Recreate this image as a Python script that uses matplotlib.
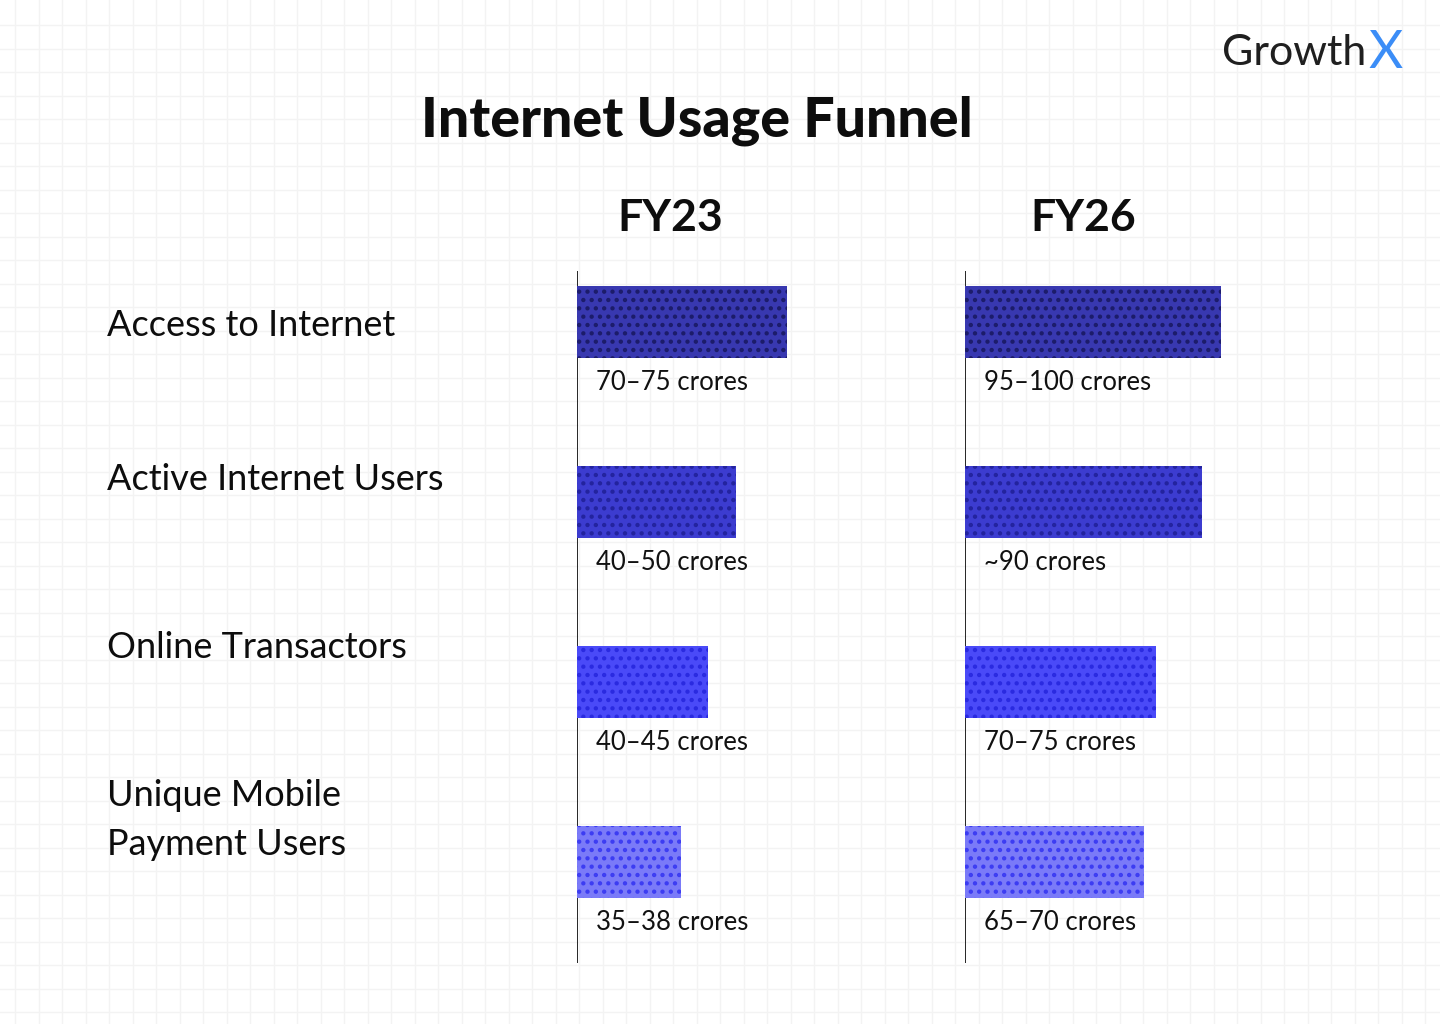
import numpy as np
import matplotlib
matplotlib.use('Agg')
import matplotlib.pyplot as plt

plt.rcParams['font.family'] = ['Lato', 'DejaVu Sans']
plt.rcParams['hatch.linewidth'] = 1.9

# data (bar lengths in screen units)
stages = ['Access to Internet', 'Active Internet Users', 'Online Transactors',
          'Unique Mobile\nPayment Users']
years = ['FY23', 'FY26']
fy23_len = [210, 159, 131, 104]
fy26_len = [256, 237, 191, 179]
fy23_labels = ['70\u201375 crores', '40\u201350 crores', '40\u201345 crores', '35\u201338 crores']
fy26_labels = ['95\u2013100 crores', '~90 crores', '70\u201375 crores', '65\u201370 crores']

bar_colors = ['#3838b0', '#3c3cd0', '#4a4af8', '#7a7af8']
dot_colors = ['#1c1c6a', '#23239e', '#2a2ae0', '#3c3cf2']

W, H = 1440, 1024
fig = plt.figure(figsize=(14.4, 10.24), dpi=100)
fig.patch.set_facecolor('white')

# faint background grid
bg = fig.add_axes([0, 0, 1, 1])
bg.set_xlim(0, W)
bg.set_ylim(H, 0)
bg.axis('off')
for gx in np.arange(15, W, 23.5):
    bg.axvline(gx, color='#f3f3f3', lw=1, zorder=0)
for gy in np.arange(25, H, 23.5):
    bg.axhline(gy, color='#f3f3f3', lw=1, zorder=0)

# header texts
fig.text(697 / W, 1 - 121 / H, 'Internet Usage Funnel', ha='center', va='center',
         fontsize=40, fontweight='black', color='#0d0d0d')
fig.text(1366 / W, 1 - 53 / H, 'Growth', ha='right', va='center',
         fontsize=31, color='#1f1f1f')
fig.text(1368 / W, 1 - 53 / H, 'X', ha='left', va='center',
         fontsize=38, color='#3b8df7')

row_h = 180
top_px, bot_px = 271, 963
first_center = 321.5
y0 = -(first_center - top_px) / row_h
y1 = y0 + (bot_px - top_px) / row_h
ypos = np.arange(len(stages))

panels = [(577, 380, fy23_len, fy23_labels, 670),
          (965, 400, fy26_len, fy26_labels, 1083)]
for (left, width, lens, labels, hx), yr in zip(panels, years):
    ax = fig.add_axes([left / W, 1 - bot_px / H, width / W, (bot_px - top_px) / H])
    ax.set_facecolor('none')
    ax.set_xlim(0, width)
    ax.set_ylim(y1, y0)
    for i in ypos:
        ax.barh(i, lens[i], height=0.4, left=0, color=bar_colors[i],
                edgecolor=dot_colors[i], hatch='..', lw=0, zorder=3)
        ax.text(19, i + 0.2 + 0.14, labels[i], ha='left', va='center',
                fontsize=18.5, color='#111111')
    ax.axvline(0, color='black', lw=1.2)
    for s in ax.spines.values():
        s.set_visible(False)
    ax.set_xticks([])
    ax.set_yticks([])
    fig.text(hx / W, 1 - 218 / H, yr, ha='center', va='center',
             fontsize=32, fontweight='bold', color='#0d0d0d')

# stage names on the left
label_y = [326, 479, 648, 820]
for name, ly in zip(stages, label_y):
    fig.text(107 / W, 1 - ly / H, name, ha='left', va='center',
             fontsize=26, color='#0d0d0d', linespacing=1.6)

fig.savefig('out.png', dpi=100, facecolor='white')
